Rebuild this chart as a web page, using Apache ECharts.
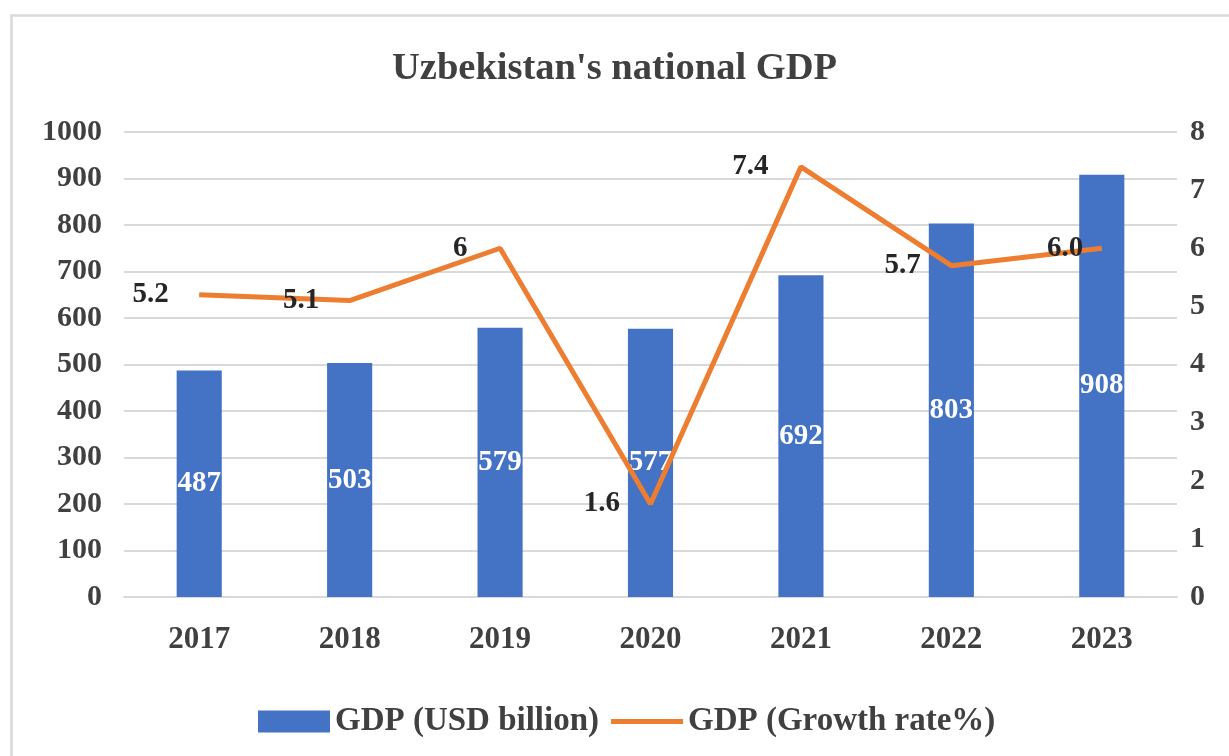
<!DOCTYPE html>
<html>
<head>
<meta charset="utf-8">
<script src="https://cdn.jsdelivr.net/npm/echarts@6/dist/echarts.min.js"></script>
<style>
html,body{margin:0;padding:0;background:#fff;}
#c{width:1229px;height:756px;}
</style>
</head>
<body>
<div id="c"></div>
<script>
const titleText = "Uzbekistan's national GDP";
const years = ['2017','2018','2019','2020','2021','2022','2023'];
const gdpUsd = [487, 503, 579, 577, 692, 803, 908];
const growthRate = [5.2, 5.1, 6.0, 1.6, 7.4, 5.7, 6.0];
const growthLabels = ['5.2', '5.1', '6', '1.6', '7.4', '5.7', '6.0'];
const leftTicks = [0, 1000, 100];
const rightTicks = [0, 8, 1];
const barName = 'GDP (USD billion)';
const lineName = 'GDP (Growth rate%)';

const FONT = '"Liberation Serif", "Times New Roman", serif';
const lineLabelDist = [30, 30, 32, 30, 32, 30, 18];
const lineData = growthRate.map((v, i) => ({ value: v, label: { distance: lineLabelDist[i] } }));

const chart = echarts.init(document.getElementById('c'));
chart.setOption({
  backgroundColor: '#fff',
  animation: false,
  textStyle: { fontFamily: FONT },
  graphic: [{
    type: 'rect', left: 9, top: 13,
    shape: { width: 1240, height: 760 },
    style: { fill: 'none', stroke: '#d9d9d9', lineWidth: 2.5 },
    silent: true
  }],
  title: {
    text: titleText, left: 'center', top: 45,
    textStyle: { fontFamily: FONT, fontWeight: 'bold', fontSize: 38.5, color: '#404040' }
  },
  legend: {
    left: 253, top: 700,
    itemWidth: 72, itemHeight: 22, itemGap: 12,
    textStyle: { fontFamily: FONT, fontWeight: 'bold', fontSize: 33, color: '#404040' },
    data: [
      { name: barName, icon: 'rect', itemStyle: { color: '#4472C4' } },
      { name: lineName, icon: 'path://M0,0 M72,22 M0,8.5 L72,8.5 L72,13.5 L0,13.5 Z', itemStyle: { color: '#ED7D31' } }
    ]
  },
  grid: { left: 124, right: 52, top: 132, bottom: 159, containLabel: false },
  xAxis: {
    type: 'category', data: years,
    axisLine: { show: true, lineStyle: { color: '#d9d9d9', width: 2 } },
    axisTick: { show: false },
    axisLabel: { margin: 27, fontFamily: FONT, fontWeight: 'bold', fontSize: 31, color: '#404040' }
  },
  yAxis: [{
    type: 'value', min: leftTicks[0], max: leftTicks[1], interval: leftTicks[2],
    axisLine: { show: false }, axisTick: { show: false },
    splitLine: { lineStyle: { color: '#d9d9d9', width: 2 } },
    axisLabel: { margin: 22, fontFamily: FONT, fontWeight: 'bold', fontSize: 30, color: '#404040', formatter: v => String(v) }
  }, {
    type: 'value', min: rightTicks[0], max: rightTicks[1], interval: rightTicks[2],
    axisLine: { show: false }, axisTick: { show: false },
    splitLine: { show: false },
    axisLabel: { margin: 13, fontFamily: FONT, fontWeight: 'bold', fontSize: 30, color: '#404040', formatter: v => String(v) }
  }],
  series: [{
    name: barName, type: 'bar', data: gdpUsd, yAxisIndex: 0,
    barWidth: '30%',
    itemStyle: { color: '#4472C4' },
    label: {
      show: true, position: 'inside',
      fontFamily: FONT, fontWeight: 'bold', fontSize: 29, color: '#fff'
    }
  }, {
    name: lineName, type: 'line', data: lineData, yAxisIndex: 1,
    symbol: 'circle', symbolSize: 1, showSymbol: true,
    lineStyle: { color: '#ED7D31', width: 5 },
    itemStyle: { color: '#ED7D31' },
    z: 5,
    label: {
      show: true, position: 'left', distance: 30,
      fontFamily: FONT, fontWeight: 'bold', fontSize: 29, color: '#262626',
      formatter: p => growthLabels[p.dataIndex]
    }
  }]
});
</script>
</body>
</html>
